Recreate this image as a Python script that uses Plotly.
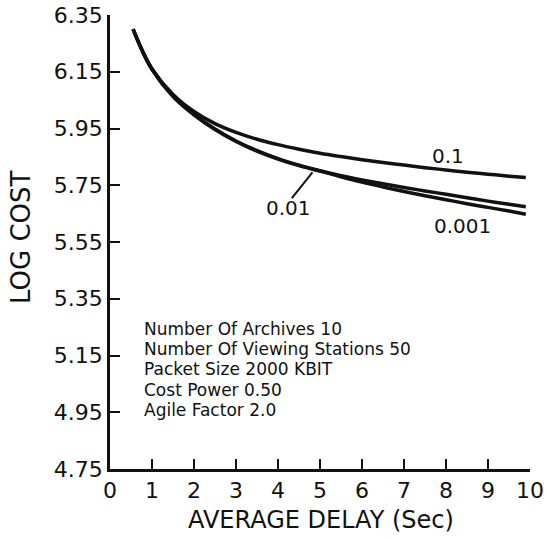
import plotly.graph_objects as go

# ---- data ----
delay = [0.55, 0.75, 1.0, 1.5, 2.0, 2.5, 3.0, 3.5, 4.0, 4.5, 5.0,
         5.5, 6.0, 6.5, 7.0, 7.5, 8.0, 8.5, 9.0, 9.5, 9.9]
cost_0_1 = [6.30, 6.23, 6.16, 6.07, 6.01, 5.967, 5.936, 5.912, 5.893, 5.877, 5.863,
            5.851, 5.840, 5.830, 5.821, 5.812, 5.804, 5.796, 5.789, 5.782, 5.777]
cost_0_01 = [6.30, 6.23, 6.16, 6.065, 6.00, 5.948, 5.906, 5.872, 5.844, 5.821, 5.801,
             5.784, 5.769, 5.755, 5.742, 5.730, 5.718, 5.706, 5.694, 5.683, 5.674]
cost_0_001 = [6.30, 6.23, 6.158, 6.063, 5.998, 5.946, 5.904, 5.870, 5.842, 5.819, 5.800,
              5.780, 5.761, 5.744, 5.728, 5.713, 5.699, 5.685, 5.672, 5.659, 5.648]

x_ticks = [0, 1, 2, 3, 4, 5, 6, 7, 8, 9, 10]
y_ticks = [4.75, 4.95, 5.15, 5.35, 5.55, 5.75, 5.95, 6.15, 6.35]
y_tick_labels = ["4.75", "4.95", "5.15", "5.35", "5.55", "5.75", "5.95", "6.15", "6.35"]

curve_labels = ["0.1", "0.01", "0.001"]
label_x = [8.05, 4.24, 8.4]
label_y = [5.853, 5.67, 5.606]

info_lines = ["Number Of Archives 10", "Number Of Viewing Stations 50",
              "Packet Size 2000 KBIT", "Cost Power 0.50", "Agile Factor 2.0"]
info_y = [5.245, 5.172, 5.101, 5.027, 4.957]
info_x = 0.76

FONT = "DejaVu Sans"
INK = "#111111"

fig = go.Figure()
for ys in (cost_0_1, cost_0_01, cost_0_001):
    fig.add_trace(go.Scatter(x=delay, y=ys, mode="lines",
                             line=dict(color=INK, width=3.5, shape="spline"),
                             showlegend=False, hoverinfo="skip"))

for t, lx, ly in zip(curve_labels, label_x, label_y):
    fig.add_annotation(x=lx, y=ly, text=t, showarrow=False,
                       font=dict(family=FONT, size=20, color=INK))

# leader line from "0.01" to its curve
fig.add_shape(type="line", x0=4.33, y0=5.705, x1=4.82, y1=5.795,
              line=dict(color=INK, width=2))

for t, ly in zip(info_lines, info_y):
    fig.add_annotation(x=info_x, y=ly, text=t, showarrow=False,
                       xanchor="left", yanchor="middle",
                       font=dict(family=FONT, size=17, color=INK))

fig.add_annotation(xref="paper", yref="paper", x=-0.212, y=0.511,
                   xanchor="center", yanchor="middle",
                   text="LOG COST", textangle=-90, showarrow=False,
                   font=dict(family=FONT, size=26, color=INK))
fig.add_annotation(xref="paper", yref="paper", x=0.502, y=-0.112,
                   xanchor="center", yanchor="middle",
                   text="AVERAGE DELAY (Sec)", showarrow=False,
                   font=dict(family=FONT, size=24, color=INK))

axis_common = dict(showline=True, linecolor=INK, linewidth=2.5,
                   ticks="inside", ticklen=10, tickwidth=2, tickcolor=INK,
                   showgrid=False, zeroline=False, automargin=False,
                   tickfont=dict(family=FONT, size=22, color=INK))

fig.update_xaxes(range=[0, 10], tickvals=x_ticks, **axis_common)
fig.update_yaxes(range=[4.75, 6.35], tickvals=y_ticks, ticktext=y_tick_labels,
                 **axis_common)

fig.update_layout(width=547, height=538,
                  margin=dict(l=110, r=17, t=15, b=69),
                  plot_bgcolor="white", paper_bgcolor="white")

# remove the page's default body margin so the figure sits at the window's corner
fig.write_html("out.html", config={"displayModeBar": False},
               post_script="document.body.style.margin='0';")
